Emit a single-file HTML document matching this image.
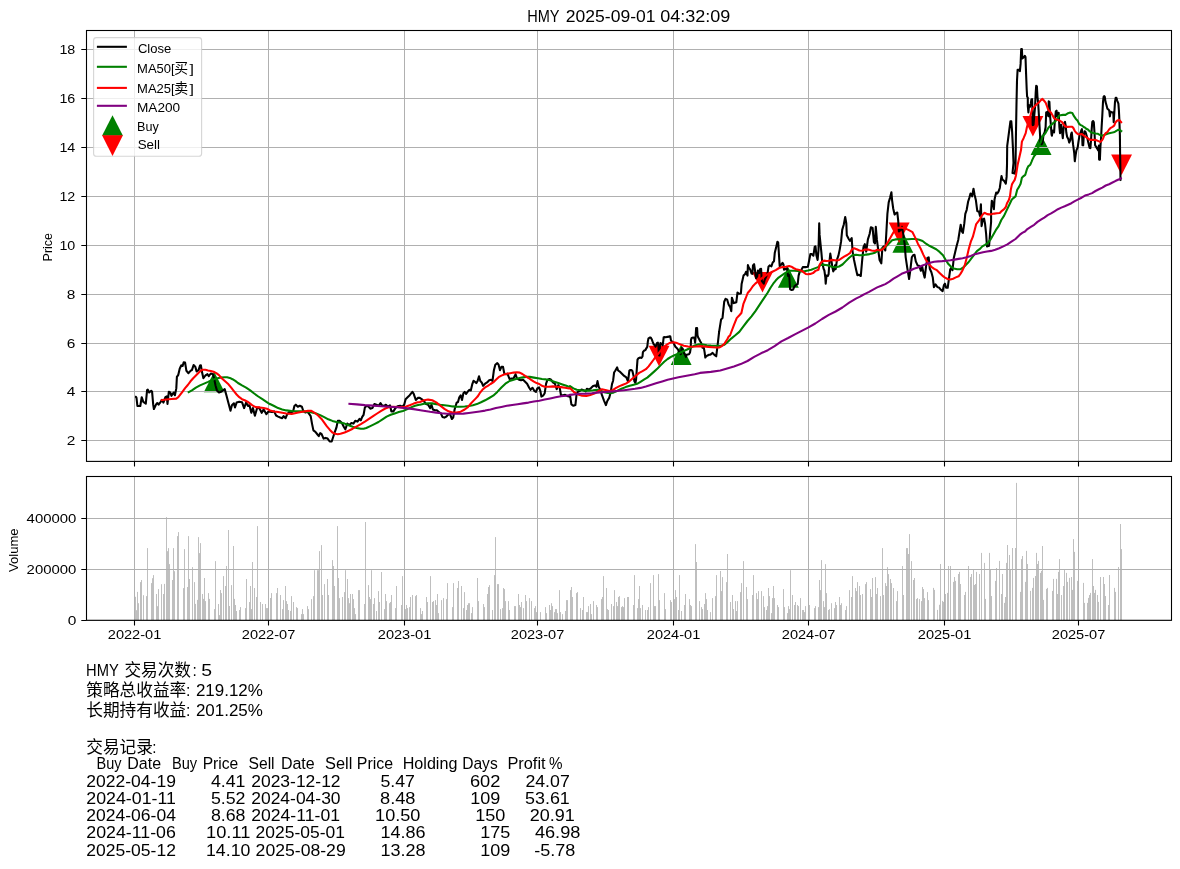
<!DOCTYPE html><html><head><meta charset="utf-8"><title>HMY</title><style>html,body{margin:0;padding:0;background:#fff}svg{display:block}text{font-family:"Liberation Sans", "Noto Sans CJK SC", sans-serif;fill:#000}</style></head><body>
<svg width="1180" height="869" viewBox="0 0 1180 869">
<rect width="1180" height="869" fill="#fff"/>
<defs><clipPath id="c1"><rect x="86.5" y="30.5" width="1085.0" height="430.9"/></clipPath></defs>
<path d="M135.5 620.3 V596.8 M136.5 620.3 V610.2 M137.5 620.3 V591.9 M138.5 620.3 V603.2 M140.5 620.3 V582.1 M141.5 620.3 V580.0 M143.5 620.3 V595.2 M146.5 620.3 V596.1 M147.5 620.3 V548.1 M151.5 620.3 V583.1 M152.5 620.3 V578.2 M153.5 620.3 V575.1 M156.5 620.3 V594.0 M157.5 620.3 V606.2 M158.5 620.3 V589.1 M161.5 620.3 V584.2 M163.5 620.3 V594.0 M164.5 620.3 V583.9 M166.5 620.3 V517.1 M167.5 620.3 V551.2 M168.5 620.3 V548.1 M169.5 620.3 V564.1 M172.5 620.3 V580.0 M173.5 620.3 V548.1 M174.5 620.3 V571.2 M177.5 620.3 V536.1 M178.5 620.3 V532.1 M183.5 620.3 V588.1 M184.5 620.3 V549.1 M187.5 620.3 V587.0 M188.5 620.3 V536.1 M189.5 620.3 V579.0 M192.5 620.3 V567.1 M194.5 620.3 V582.1 M195.5 620.3 V603.9 M197.5 620.3 V599.9 M198.5 620.3 V537.1 M199.5 620.3 V553.1 M200.5 620.3 V543.1 M202.5 620.3 V594.0 M203.5 620.3 V598.9 M204.5 620.3 V578.0 M205.5 620.3 V601.1 M208.5 620.3 V593.1 M209.5 620.3 V598.9 M214.5 620.3 V609.1 M215.5 620.3 V561.1 M218.5 620.3 V604.0 M219.5 620.3 V615.1 M220.5 620.3 V590.0 M221.5 620.3 V593.1 M223.5 620.3 V576.1 M225.5 620.3 V586.0 M226.5 620.3 V566.0 M228.5 620.3 V530.0 M229.5 620.3 V606.0 M231.5 620.3 V585.1 M233.5 620.3 V546.0 M234.5 620.3 V598.9 M235.5 620.3 V605.0 M236.5 620.3 V611.0 M239.5 620.3 V610.0 M240.5 620.3 V607.1 M245.5 620.3 V608.1 M246.5 620.3 V579.0 M249.5 620.3 V602.0 M250.5 620.3 V586.0 M251.5 620.3 V609.1 M252.5 620.3 V562.0 M254.5 620.3 V588.0 M256.5 620.3 V597.0 M257.5 620.3 V526.1 M260.5 620.3 V602.0 M262.5 620.3 V604.0 M265.5 620.3 V604.0 M266.5 620.3 V608.1 M267.5 620.3 V608.1 M270.5 620.3 V598.0 M271.5 620.3 V593.1 M276.5 620.3 V593.1 M277.5 620.3 V588.0 M280.5 620.3 V595.0 M282.5 620.3 V609.1 M283.5 620.3 V600.1 M285.5 620.3 V586.0 M286.5 620.3 V601.1 M287.5 620.3 V604.0 M288.5 620.3 V610.0 M290.5 620.3 V610.9 M291.5 620.3 V596.1 M293.5 620.3 V602.0 M296.5 620.3 V607.1 M297.5 620.3 V608.1 M301.5 620.3 V614.1 M302.5 620.3 V609.1 M303.5 620.3 V614.1 M307.5 620.3 V606.1 M308.5 620.3 V609.1 M311.5 620.3 V599.1 M313.5 620.3 V596.1 M314.5 620.3 V570.2 M317.5 620.3 V570.2 M318.5 620.3 V570.2 M319.5 620.3 V551.1 M321.5 620.3 V545.1 M322.5 620.3 V595.0 M324.5 620.3 V584.1 M327.5 620.3 V579.0 M328.5 620.3 V595.0 M332.5 620.3 V560.1 M333.5 620.3 V566.0 M334.5 620.3 V586.0 M337.5 620.3 V526.1 M338.5 620.3 V578.0 M339.5 620.3 V598.1 M342.5 620.3 V597.0 M344.5 620.3 V592.1 M345.5 620.3 V570.2 M347.5 620.3 V579.0 M348.5 620.3 V598.1 M349.5 620.3 V603.2 M350.5 620.3 V594.0 M352.5 620.3 V594.0 M353.5 620.3 V599.1 M354.5 620.3 V608.1 M355.5 620.3 V614.1 M358.5 620.3 V590.1 M359.5 620.3 V590.1 M364.5 620.3 V604.0 M365.5 620.3 V522.0 M368.5 620.3 V585.1 M369.5 620.3 V597.0 M370.5 620.3 V599.1 M371.5 620.3 V570.2 M373.5 620.3 V604.0 M374.5 620.3 V598.1 M376.5 620.3 V611.0 M378.5 620.3 V591.1 M379.5 620.3 V602.0 M381.5 620.3 V572.0 M384.5 620.3 V609.1 M385.5 620.3 V594.0 M386.5 620.3 V601.1 M389.5 620.3 V603.2 M390.5 620.3 V602.0 M391.5 620.3 V595.0 M395.5 620.3 V608.1 M396.5 620.3 V586.0 M401.5 620.3 V605.0 M402.5 620.3 V576.1 M405.5 620.3 V609.1 M406.5 620.3 V605.0 M407.5 620.3 V608.1 M409.5 620.3 V607.1 M410.5 620.3 V597.0 M412.5 620.3 V595.0 M415.5 620.3 V596.1 M416.5 620.3 V595.0 M420.5 620.3 V608.1 M421.5 620.3 V614.1 M422.5 620.3 V611.0 M426.5 620.3 V597.0 M427.5 620.3 V602.0 M430.5 620.3 V576.1 M432.5 620.3 V602.0 M433.5 620.3 V601.1 M435.5 620.3 V600.1 M436.5 620.3 V605.0 M437.5 620.3 V594.0 M438.5 620.3 V613.1 M441.5 620.3 V600.1 M443.5 620.3 V598.1 M446.5 620.3 V599.1 M447.5 620.3 V583.1 M452.5 620.3 V607.1 M453.5 620.3 V583.1 M457.5 620.3 V588.0 M458.5 620.3 V581.0 M461.5 620.3 V586.0 M463.5 620.3 V608.1 M464.5 620.3 V592.1 M466.5 620.3 V610.0 M467.5 620.3 V605.0 M468.5 620.3 V603.2 M469.5 620.3 V603.2 M471.5 620.3 V613.1 M472.5 620.3 V607.1 M477.5 620.3 V578.0 M478.5 620.3 V601.1 M483.5 620.3 V604.0 M484.5 620.3 V607.1 M487.5 620.3 V594.0 M488.5 620.3 V587.0 M489.5 620.3 V585.1 M492.5 620.3 V610.0 M494.5 620.3 V575.1 M495.5 620.3 V537.1 M497.5 620.3 V584.1 M498.5 620.3 V584.1 M500.5 620.3 V609.1 M502.5 620.3 V608.1 M503.5 620.3 V588.0 M504.5 620.3 V589.1 M505.5 620.3 V601.1 M508.5 620.3 V601.1 M509.5 620.3 V610.0 M514.5 620.3 V606.1 M515.5 620.3 V606.1 M518.5 620.3 V594.0 M519.5 620.3 V605.0 M520.5 620.3 V607.1 M521.5 620.3 V602.0 M523.5 620.3 V608.1 M525.5 620.3 V595.0 M526.5 620.3 V601.1 M529.5 620.3 V598.1 M531.5 620.3 V601.1 M534.5 620.3 V608.1 M535.5 620.3 V606.1 M536.5 620.3 V612.1 M540.5 620.3 V612.1 M545.5 620.3 V607.1 M546.5 620.3 V613.1 M549.5 620.3 V605.0 M550.5 620.3 V610.0 M551.5 620.3 V603.2 M552.5 620.3 V606.1 M554.5 620.3 V612.1 M555.5 620.3 V609.1 M556.5 620.3 V609.1 M557.5 620.3 V613.1 M559.5 620.3 V590.1 M560.5 620.3 V612.1 M562.5 620.3 V614.1 M565.5 620.3 V611.0 M566.5 620.3 V600.1 M567.5 620.3 V600.1 M570.5 620.3 V590.1 M571.5 620.3 V587.0 M572.5 620.3 V597.0 M576.5 620.3 V593.1 M577.5 620.3 V592.1 M580.5 620.3 V608.1 M582.5 620.3 V610.0 M583.5 620.3 V597.0 M586.5 620.3 V612.1 M587.5 620.3 V612.1 M588.5 620.3 V606.1 M590.5 620.3 V604.0 M591.5 620.3 V614.1 M593.5 620.3 V601.1 M596.5 620.3 V605.0 M597.5 620.3 V607.1 M601.5 620.3 V599.1 M602.5 620.3 V597.0 M603.5 620.3 V576.1 M606.5 620.3 V588.0 M607.5 620.3 V609.1 M608.5 620.3 V610.0 M611.5 620.3 V604.0 M613.5 620.3 V606.1 M614.5 620.3 V590.1 M616.5 620.3 V602.0 M617.5 620.3 V606.1 M618.5 620.3 V597.0 M619.5 620.3 V596.1 M621.5 620.3 V607.1 M622.5 620.3 V606.1 M623.5 620.3 V607.1 M624.5 620.3 V598.1 M627.5 620.3 V597.0 M628.5 620.3 V597.0 M633.5 620.3 V605.0 M634.5 620.3 V575.1 M637.5 620.3 V608.1 M638.5 620.3 V599.1 M639.5 620.3 V586.0 M640.5 620.3 V608.1 M642.5 620.3 V605.0 M645.5 620.3 V610.0 M647.5 620.3 V610.0 M648.5 620.3 V607.1 M650.5 620.3 V583.1 M653.5 620.3 V575.1 M654.5 620.3 V606.1 M655.5 620.3 V606.1 M658.5 620.3 V574.1 M659.5 620.3 V600.1 M664.5 620.3 V593.1 M665.5 620.3 V609.1 M670.5 620.3 V600.1 M671.5 620.3 V602.0 M674.5 620.3 V599.1 M675.5 620.3 V590.1 M676.5 620.3 V597.0 M678.5 620.3 V610.0 M679.5 620.3 V575.1 M681.5 620.3 V611.0 M684.5 620.3 V605.0 M685.5 620.3 V594.0 M689.5 620.3 V599.1 M690.5 620.3 V605.0 M691.5 620.3 V606.1 M695.5 620.3 V544.1 M696.5 620.3 V562.0 M699.5 620.3 V601.1 M701.5 620.3 V607.1 M702.5 620.3 V609.1 M704.5 620.3 V604.0 M705.5 620.3 V593.1 M706.5 620.3 V599.1 M707.5 620.3 V610.0 M710.5 620.3 V612.1 M712.5 620.3 V598.1 M715.5 620.3 V596.1 M716.5 620.3 V575.1 M720.5 620.3 V571.0 M721.5 620.3 V591.1 M722.5 620.3 V577.1 M726.5 620.3 V582.1 M727.5 620.3 V554.0 M730.5 620.3 V602.0 M732.5 620.3 V595.0 M733.5 620.3 V609.1 M735.5 620.3 V601.1 M736.5 620.3 V611.0 M737.5 620.3 V601.1 M740.5 620.3 V592.1 M741.5 620.3 V583.1 M743.5 620.3 V561.1 M746.5 620.3 V587.0 M747.5 620.3 V599.1 M752.5 620.3 V595.0 M753.5 620.3 V575.1 M756.5 620.3 V593.1 M757.5 620.3 V599.1 M758.5 620.3 V591.1 M761.5 620.3 V591.1 M763.5 620.3 V596.1 M764.5 620.3 V607.1 M766.5 620.3 V610.0 M767.5 620.3 V606.1 M768.5 620.3 V588.0 M769.5 620.3 V596.1 M771.5 620.3 V613.1 M772.5 620.3 V598.1 M773.5 620.3 V586.0 M774.5 620.3 V598.1 M777.5 620.3 V605.0 M778.5 620.3 V607.1 M783.5 620.3 V589.1 M784.5 620.3 V607.1 M787.5 620.3 V613.1 M788.5 620.3 V606.1 M789.5 620.3 V609.1 M790.5 620.3 V570.2 M792.5 620.3 V595.0 M794.5 620.3 V605.0 M795.5 620.3 V602.0 M797.5 620.3 V605.0 M798.5 620.3 V606.1 M800.5 620.3 V598.1 M802.5 620.3 V610.0 M803.5 620.3 V610.0 M804.5 620.3 V612.1 M805.5 620.3 V606.1 M809.5 620.3 V605.0 M814.5 620.3 V608.1 M815.5 620.3 V606.1 M818.5 620.3 V607.1 M819.5 620.3 V580.0 M820.5 620.3 V590.1 M821.5 620.3 V560.1 M823.5 620.3 V601.1 M824.5 620.3 V607.1 M825.5 620.3 V564.1 M826.5 620.3 V593.1 M828.5 620.3 V610.0 M829.5 620.3 V609.1 M831.5 620.3 V603.2 M834.5 620.3 V608.1 M835.5 620.3 V602.0 M836.5 620.3 V605.0 M839.5 620.3 V597.0 M840.5 620.3 V605.0 M841.5 620.3 V603.2 M845.5 620.3 V610.0 M846.5 620.3 V606.1 M849.5 620.3 V590.1 M851.5 620.3 V597.0 M852.5 620.3 V576.1 M855.5 620.3 V588.0 M856.5 620.3 V591.1 M857.5 620.3 V582.1 M859.5 620.3 V586.0 M860.5 620.3 V595.0 M862.5 620.3 V594.0 M865.5 620.3 V584.1 M866.5 620.3 V582.1 M870.5 620.3 V589.1 M871.5 620.3 V597.0 M872.5 620.3 V578.0 M875.5 620.3 V577.1 M876.5 620.3 V594.0 M877.5 620.3 V588.0 M880.5 620.3 V596.1 M882.5 620.3 V548.1 M883.5 620.3 V595.0 M885.5 620.3 V583.1 M886.5 620.3 V586.0 M887.5 620.3 V567.1 M888.5 620.3 V574.1 M890.5 620.3 V579.0 M891.5 620.3 V583.1 M893.5 620.3 V588.0 M896.5 620.3 V601.1 M897.5 620.3 V591.1 M902.5 620.3 V566.0 M903.5 620.3 V595.0 M906.5 620.3 V548.1 M907.5 620.3 V548.1 M908.5 620.3 V554.0 M909.5 620.3 V534.1 M911.5 620.3 V561.1 M913.5 620.3 V580.0 M914.5 620.3 V578.0 M916.5 620.3 V599.1 M917.5 620.3 V598.1 M919.5 620.3 V599.1 M921.5 620.3 V601.1 M922.5 620.3 V587.0 M923.5 620.3 V589.1 M924.5 620.3 V598.1 M927.5 620.3 V592.1 M928.5 620.3 V600.1 M933.5 620.3 V587.9 M934.5 620.3 V589.9 M937.5 620.3 V609.9 M939.5 620.3 V604.8 M940.5 620.3 V564.0 M942.5 620.3 V600.9 M943.5 620.3 V601.9 M945.5 620.3 V594.0 M947.5 620.3 V592.9 M948.5 620.3 V566.0 M950.5 620.3 V566.0 M953.5 620.3 V581.9 M954.5 620.3 V577.0 M955.5 620.3 V580.9 M958.5 620.3 V574.0 M959.5 620.3 V571.9 M960.5 620.3 V584.0 M964.5 620.3 V595.0 M965.5 620.3 V591.9 M968.5 620.3 V566.0 M970.5 620.3 V577.0 M971.5 620.3 V574.0 M973.5 620.3 V569.9 M974.5 620.3 V585.0 M975.5 620.3 V584.0 M976.5 620.3 V571.9 M979.5 620.3 V574.0 M981.5 620.3 V552.9 M984.5 620.3 V562.9 M985.5 620.3 V598.9 M989.5 620.3 V552.9 M990.5 620.3 V569.9 M991.5 620.3 V596.0 M995.5 620.3 V580.9 M996.5 620.3 V568.0 M999.5 620.3 V560.9 M1001.5 620.3 V594.0 M1002.5 620.3 V574.0 M1004.5 620.3 V602.9 M1005.5 620.3 V597.0 M1006.5 620.3 V562.9 M1007.5 620.3 V545.0 M1009.5 620.3 V555.0 M1010.5 620.3 V569.9 M1012.5 620.3 V548.0 M1015.5 620.3 V548.0 M1016.5 620.3 V482.9 M1020.5 620.3 V591.9 M1021.5 620.3 V559.1 M1022.5 620.3 V556.0 M1025.5 620.3 V581.9 M1026.5 620.3 V550.9 M1027.5 620.3 V564.0 M1030.5 620.3 V590.9 M1032.5 620.3 V587.9 M1033.5 620.3 V577.9 M1035.5 620.3 V576.0 M1036.5 620.3 V552.9 M1037.5 620.3 V564.0 M1038.5 620.3 V560.9 M1040.5 620.3 V572.9 M1041.5 620.3 V570.9 M1042.5 620.3 V546.0 M1043.5 620.3 V599.9 M1046.5 620.3 V588.9 M1047.5 620.3 V587.9 M1052.5 620.3 V590.9 M1053.5 620.3 V578.9 M1056.5 620.3 V578.9 M1057.5 620.3 V594.0 M1058.5 620.3 V571.9 M1059.5 620.3 V559.1 M1061.5 620.3 V595.0 M1063.5 620.3 V586.0 M1064.5 620.3 V569.9 M1066.5 620.3 V572.9 M1067.5 620.3 V581.9 M1069.5 620.3 V577.9 M1071.5 620.3 V577.0 M1072.5 620.3 V589.9 M1073.5 620.3 V539.1 M1074.5 620.3 V551.9 M1077.5 620.3 V580.9 M1083.5 620.3 V582.9 M1084.5 620.3 V602.9 M1087.5 620.3 V602.9 M1088.5 620.3 V597.9 M1089.5 620.3 V595.0 M1090.5 620.3 V592.9 M1092.5 620.3 V559.1 M1093.5 620.3 V586.0 M1094.5 620.3 V592.9 M1095.5 620.3 V589.9 M1097.5 620.3 V595.0 M1098.5 620.3 V601.9 M1100.5 620.3 V577.0 M1103.5 620.3 V577.0 M1104.5 620.3 V584.0 M1105.5 620.3 V596.0 M1108.5 620.3 V605.0 M1109.5 620.3 V575.0 M1114.5 620.3 V587.9 M1115.5 620.3 V591.9 M1118.5 620.3 V567.0 M1120.5 620.3 V524.0 M1121.5 620.3 V549.1" stroke="#bfbfbf" stroke-width="1" fill="none"/>
<polygon points="214.2,371.7 203.8,392.2 224.7,392.2" fill="#008000"/>
<polygon points="681.2,344.5 670.7,365.0 691.6,365.0" fill="#008000"/>
<polygon points="788.3,267.2 777.9,287.7 798.8,287.7" fill="#008000"/>
<polygon points="902.9,232.2 892.4,252.7 913.3,252.7" fill="#008000"/>
<polygon points="1041.0,134.5 1030.6,155.0 1051.5,155.0" fill="#008000"/>
<polygon points="659.0,366.2 648.6,345.7 669.5,345.7" fill="#ff0000"/>
<polygon points="762.5,292.6 752.0,272.1 772.9,272.1" fill="#ff0000"/>
<polygon points="899.2,243.1 888.7,222.6 909.6,222.6" fill="#ff0000"/>
<polygon points="1032.9,136.4 1022.5,115.9 1043.4,115.9" fill="#ff0000"/>
<polygon points="1121.6,175.1 1111.1,154.6 1132.0,154.6" fill="#ff0000"/>
<path d="M134.5 30.5 V461.4 M134.5 476.5 V620.3 M268.5 30.5 V461.4 M268.5 476.5 V620.3 M404.5 30.5 V461.4 M404.5 476.5 V620.3 M537.5 30.5 V461.4 M537.5 476.5 V620.3 M673.5 30.5 V461.4 M673.5 476.5 V620.3 M808.5 30.5 V461.4 M808.5 476.5 V620.3 M944.5 30.5 V461.4 M944.5 476.5 V620.3 M1078.5 30.5 V461.4 M1078.5 476.5 V620.3 M86.5 440.5 H1171.5 M86.5 391.5 H1171.5 M86.5 343.5 H1171.5 M86.5 294.5 H1171.5 M86.5 245.5 H1171.5 M86.5 196.5 H1171.5 M86.5 147.5 H1171.5 M86.5 98.5 H1171.5 M86.5 49.5 H1171.5 M86.5 620.5 H1171.5 M86.5 569.5 H1171.5 M86.5 518.5 H1171.5" stroke="#b0b0b0" stroke-width="1" fill="none"/>
<g clip-path="url(#c1)">
<polyline points="135.0,396.8 135.9,396.9 136.5,397.9 137.4,406.0 140.3,406.0 141.7,397.2 143.3,401.9 145.8,403.6 147.1,390.2 147.8,389.7 149.2,392.5 151.2,390.8 152.1,391.8 153.2,404.7 153.9,409.0 155.9,404.7 157.3,403.0 158.6,404.7 160.7,401.9 162.0,399.9 163.4,402.6 165.4,397.2 166.8,396.3 167.5,404.0 168.8,391.8 170.2,392.5 171.5,395.8 173.6,392.5 174.9,395.2 176.3,388.4 176.9,376.9 178.3,374.8 179.7,368.7 181.3,365.3 182.6,366.0 183.7,362.4 185.1,362.6 186.4,370.8 188.5,373.2 190.5,370.8 191.9,370.1 193.6,365.1 195.3,366.7 196.6,371.4 198.6,370.1 200.0,365.6 200.9,365.3 202.0,372.1 203.4,378.2 205.4,375.5 207.5,374.2 208.8,376.2 210.8,373.5 212.9,374.2 214.2,378.9 215.6,385.7 216.9,390.4 219.0,392.5 221.0,391.8 223.1,390.4 224.7,389.1 226.4,395.2 228.5,403.3 230.5,410.8 231.9,405.3 233.9,403.3 235.0,407.4 236.6,402.6 239.3,401.7 242.0,402.2 244.1,408.1 246.1,402.6 248.1,406.0 249.5,405.3 251.3,412.8 252.9,408.1 254.9,415.8 256.9,408.7 259.0,407.6 261.7,412.8 263.7,409.4 266.4,414.2 268.5,411.4 272.0,412.1 274.1,411.4 276.1,415.5 278.1,416.6 280.2,417.5 282.2,418.2 283.6,416.2 285.6,418.2 286.9,414.8 289.0,412.1 291.0,412.5 293.1,411.4 294.4,406.0 295.8,404.7 297.8,406.7 299.8,405.7 301.9,406.7 303.2,410.8 305.3,412.5 307.3,411.7 309.3,414.2 310.7,416.2 312.0,423.6 313.4,430.4 315.4,431.8 317.5,434.5 318.8,436.1 320.2,433.1 321.5,433.8 323.6,438.6 325.6,437.9 327.6,438.6 329.7,441.5 331.7,441.5 333.1,437.2 334.4,433.1 336.4,427.7 337.8,420.9 339.8,420.9 341.9,423.0 343.9,427.0 345.3,429.3 347.3,423.6 349.3,425.0 351.4,423.0 353.4,423.6 355.4,420.7 357.5,421.6 359.5,418.9 360.8,420.3 362.2,416.9 363.6,414.8 364.9,407.4 366.3,406.0 368.3,406.3 370.3,408.7 372.4,408.1 374.4,404.0 376.4,404.7 378.5,406.0 380.5,403.0 381.9,405.3 383.9,406.0 385.9,404.7 388.0,406.7 390.0,405.3 391.4,411.4 393.4,411.4 395.4,408.1 397.5,406.3 400.2,405.7 402.2,406.7 404.2,404.7 405.6,399.2 407.6,397.2 409.7,395.2 412.4,391.8 413.7,393.8 415.8,399.9 417.8,397.9 419.8,397.9 422.0,399.3 424.1,401.4 426.1,404.1 428.1,404.7 430.2,408.1 431.5,404.7 432.9,409.5 434.9,410.2 436.9,410.2 439.0,412.2 441.0,413.6 442.4,416.9 444.4,417.6 446.4,416.5 448.5,414.2 449.8,413.6 451.9,419.0 453.2,417.6 454.6,409.5 456.6,402.7 458.0,402.0 459.3,397.3 460.7,395.3 462.0,400.0 463.4,393.2 464.7,391.9 466.1,393.9 468.1,391.2 469.5,389.8 470.8,390.5 472.2,384.4 473.6,380.7 474.9,381.7 476.3,383.1 477.6,381.0 479.0,376.3 480.3,381.0 481.7,382.4 483.1,385.8 485.1,383.7 487.1,382.4 489.2,380.3 491.2,379.7 492.5,381.0 493.9,370.2 495.3,364.7 497.3,363.1 498.6,364.7 500.0,370.2 501.4,366.8 503.0,366.8 504.3,373.6 506.1,374.2 507.5,373.6 509.5,379.0 511.5,378.6 513.6,378.3 515.6,374.2 516.9,378.3 519.0,379.7 521.0,380.3 523.1,379.7 525.1,381.7 527.1,383.7 529.2,387.8 530.5,389.8 532.5,387.8 534.6,391.2 535.9,391.9 537.3,388.5 539.1,387.4 540.4,391.2 541.4,396.6 543.4,395.3 544.7,393.2 546.1,383.7 547.5,379.7 549.5,379.0 550.8,379.4 552.9,382.4 554.9,383.7 556.7,389.2 558.3,385.1 559.7,387.8 561.0,395.3 563.1,395.3 565.1,394.8 567.1,395.9 569.2,396.6 570.0,394.9 571.4,404.4 573.4,405.8 575.4,405.1 576.5,394.9 577.5,392.2 579.5,391.1 581.5,389.5 583.6,390.2 585.6,391.5 586.9,388.8 589.0,389.5 591.0,388.1 593.1,386.1 595.1,385.4 596.4,386.8 597.5,381.1 598.7,386.8 600.5,390.2 601.9,394.9 603.9,400.3 605.9,405.1 607.3,401.0 609.3,397.6 610.7,392.2 612.0,384.1 613.1,380.7 614.1,372.5 615.4,370.5 617.1,367.4 618.1,370.5 620.2,371.9 622.2,373.9 624.2,375.9 626.3,377.3 628.0,381.4 629.4,370.5 630.0,370.1 631.4,370.1 632.4,371.1 633.4,375.2 634.4,381.3 635.4,383.0 636.1,379.2 636.8,369.1 637.5,359.6 638.5,358.2 640.2,357.5 641.5,357.9 642.5,356.5 642.9,352.1 643.9,350.8 645.3,350.1 646.3,348.4 647.3,346.7 647.8,341.9 648.4,338.6 649.7,337.5 650.7,337.5 651.7,339.2 652.7,341.9 653.7,344.3 654.7,345.3 655.6,346.7 656.4,344.7 657.1,343.0 657.9,342.6 658.5,347.4 658.8,355.2 659.5,355.5 659.8,348.1 660.4,343.0 661.2,343.6 661.9,344.3 662.7,345.3 663.2,341.3 663.7,337.2 664.6,337.1 665.6,337.2 666.9,336.9 668.3,336.9 669.7,336.2 670.3,336.5 671.0,340.6 672.0,341.6 673.4,342.6 674.4,344.7 675.4,346.7 676.8,348.1 678.1,349.7 678.9,351.4 679.8,352.8 680.7,354.2 681.2,351.4 681.7,348.1 682.5,348.4 683.6,352.1 684.2,353.5 685.3,355.2 685.9,356.9 686.6,354.8 687.6,354.5 689.0,354.2 690.0,352.5 690.7,348.1 691.0,339.9 691.7,337.9 693.1,337.5 694.4,337.7 695.1,342.6 695.6,337.2 696.1,328.1 697.1,328.1 697.5,335.2 698.1,337.2 699.2,339.2 700.2,341.3 701.2,343.0 701.9,345.3 702.5,347.7 703.9,348.1 704.6,352.1 705.3,357.5 706.3,356.2 707.6,355.5 709.0,354.8 710.0,354.7 711.0,354.2 712.6,352.9 714.4,354.9 716.2,356.3 717.5,346.1 719.2,331.2 719.1,332.0 721.1,319.4 722.5,318.1 724.2,301.8 725.6,298.8 727.2,299.7 728.6,304.5 730.2,307.2 731.3,311.3 731.9,297.7 733.7,303.1 735.0,302.7 736.3,302.3 737.5,292.5 739.2,293.8 740.9,293.4 741.6,284.1 742.6,279.8 743.5,275.6 745.2,273.9 746.0,271.8 747.5,275.6 747.9,265.0 749.0,268.0 750.3,269.7 751.5,273.5 752.4,273.9 753.0,265.4 754.1,264.2 754.9,269.7 756.0,278.1 757.2,276.4 757.9,270.5 759.2,273.1 760.0,269.2 761.1,268.8 761.7,280.7 762.5,281.9 763.8,283.6 764.7,279.8 765.9,277.3 767.6,273.1 768.5,266.7 769.7,265.4 771.4,266.3 772.7,262.5 774.0,261.2 774.8,252.7 776.1,247.6 777.4,241.7 778.2,242.5 779.1,256.9 779.7,266.3 781.2,264.6 782.5,262.9 783.5,264.6 784.0,269.7 785.0,268.8 785.8,269.2 787.1,268.0 788.0,276.0 789.2,275.2 790.1,289.2 791.8,290.0 793.1,289.6 794.3,286.6 796.0,284.9 797.7,284.1 798.6,275.6 799.8,271.4 801.1,270.5 802.8,267.1 805.3,267.1 807.9,266.7 809.2,260.3 810.4,254.0 811.7,254.0 813.4,255.7 814.7,246.8 815.5,246.4 816.4,255.3 817.6,259.9 818.5,250.2 818.9,234.9 819.2,223.4 819.6,234.9 821.4,252.7 822.3,262.9 823.6,268.8 824.4,270.5 825.3,277.3 825.7,283.6 826.5,275.6 827.8,276.0 828.6,274.3 829.5,261.2 830.3,253.6 831.6,262.0 832.5,268.0 833.3,271.4 834.6,268.8 835.0,265.4 835.7,269.2 837.0,259.7 838.4,255.7 839.7,249.6 841.1,241.4 842.2,229.9 843.8,224.5 845.2,217.0 846.3,223.1 846.8,235.3 848.6,238.7 849.9,240.8 851.7,238.1 852.6,251.6 854.0,259.7 856.0,269.2 857.4,275.3 858.7,274.7 860.8,276.0 862.1,261.1 863.5,246.9 864.8,244.2 866.2,251.6 867.9,239.4 869.6,234.0 870.9,227.2 872.6,227.9 873.9,242.1 875.0,243.5 875.8,226.8 876.9,239.7 878.3,250.5 879.6,260.0 881.3,263.4 882.4,247.8 883.7,246.4 885.3,250.5 886.4,231.5 887.4,213.9 888.7,202.4 890.1,197.6 891.4,192.2 892.1,200.3 893.2,208.5 894.6,214.6 895.9,213.2 897.3,212.5 898.2,220.7 898.9,231.5 900.5,230.2 901.9,226.8 903.2,233.6 904.6,243.7 905.7,257.3 907.3,268.1 909.1,279.0 910.4,269.5 911.8,257.3 913.1,255.3 914.5,254.8 915.8,261.4 917.6,265.4 919.2,265.7 920.9,270.8 922.2,266.8 923.6,273.6 924.7,277.6 926.0,266.8 927.4,258.0 928.7,257.3 929.8,268.8 931.4,272.2 932.8,277.6 933.9,287.1 935.5,284.4 937.5,287.1 939.3,287.8 940.9,289.8 942.6,291.2 943.9,285.1 945.0,283.7 946.1,287.8 947.7,287.8 949.1,277.6 950.2,269.5 951.1,267.9 952.5,270.2 953.8,258.0 955.2,251.9 956.5,246.4 958.3,239.7 959.6,231.5 960.7,224.7 961.9,231.5 962.9,232.9 964.3,223.4 965.3,213.9 966.7,209.8 968.1,201.7 969.4,197.6 970.5,193.6 972.1,196.3 973.5,188.8 974.6,194.9 975.9,200.3 977.3,211.2 978.9,211.5 980.0,215.9 980.9,204.4 981.6,226.1 983.0,219.3 984.1,218.6 985.0,223.4 986.1,233.6 987.0,246.4 989.1,245.8 990.0,234.2 991.1,222.0 991.1,210.8 991.8,200.7 993.1,204.1 993.9,209.2 994.5,199.8 995.2,196.4 996.2,192.6 997.3,193.5 998.6,191.4 999.8,188.0 1000.7,181.2 1001.5,176.1 1002.4,179.5 1004.1,180.8 1005.8,183.7 1006.6,176.9 1007.0,165.1 1007.2,145.8 1009.2,130.6 1010.4,121.3 1011.3,121.4 1012.1,131.4 1013.0,149.2 1013.5,162.8 1012.5,173.1 1014.7,173.6 1015.5,168.5 1015.9,137.4 1016.5,103.5 1017.0,80.8 1017.6,69.8 1018.9,69.7 1019.9,71.1 1020.6,63.9 1021.2,49.1 1021.9,49.1 1022.3,58.4 1023.6,57.5 1024.8,55.8 1025.5,57.1 1026.1,74.1 1026.7,89.3 1027.1,96.5 1027.8,97.8 1027.8,106.0 1028.4,112.4 1029.1,105.2 1029.9,106.9 1030.8,103.5 1031.4,99.7 1032.1,99.2 1032.5,111.9 1032.7,125.1 1033.5,124.7 1034.2,116.2 1035.0,107.7 1035.7,92.7 1036.2,85.9 1036.9,86.4 1037.4,96.1 1038.2,103.5 1039.2,120.4 1040.1,135.7 1040.5,143.7 1041.6,144.2 1042.6,142.5 1043.5,134.8 1044.7,132.3 1045.6,127.2 1046.2,112.4 1047.3,111.9 1048.4,116.2 1048.7,101.4 1049.4,101.8 1050.1,116.2 1050.7,123.0 1051.5,134.0 1051.9,135.7 1052.8,130.6 1054.1,132.3 1054.9,120.4 1055.8,111.5 1056.6,110.7 1057.0,116.2 1057.7,113.2 1058.7,112.8 1059.4,127.2 1060.0,133.1 1060.4,128.9 1061.1,124.7 1061.9,130.6 1062.8,138.2 1063.4,130.6 1064.2,123.0 1065.0,121.9 1065.7,125.7 1066.3,132.5 1067.1,136.7 1068.4,139.2 1069.2,142.6 1070.3,140.1 1071.1,134.2 1071.8,132.5 1072.5,139.2 1073.1,144.7 1074.2,152.8 1074.8,161.3 1075.6,155.3 1076.4,150.3 1077.7,147.3 1078.6,140.9 1079.6,135.0 1080.7,132.0 1081.5,129.9 1081.9,129.1 1082.5,145.2 1083.2,145.3 1083.8,135.8 1084.5,131.2 1085.3,131.6 1086.2,134.2 1087.2,137.5 1088.3,142.6 1089.6,147.7 1090.4,148.1 1091.1,139.2 1091.7,129.1 1092.3,121.9 1093.1,121.0 1093.8,122.3 1094.5,132.5 1095.1,145.2 1096.2,146.9 1097.2,148.6 1098.1,150.3 1098.9,145.6 1099.1,159.6 1099.9,159.6 1100.4,146.9 1101.0,139.2 1101.6,127.4 1102.3,115.5 1103.0,101.9 1103.6,96.9 1104.2,96.0 1104.8,96.9 1105.5,101.9 1106.5,105.3 1107.4,108.7 1108.4,109.6 1109.2,110.4 1109.9,116.4 1110.6,111.7 1111.6,112.1 1112.6,112.5 1113.3,112.5 1113.7,122.3 1114.3,113.0 1115.0,101.9 1115.7,97.7 1116.4,97.7 1117.1,100.3 1118.4,103.6 1118.9,110.4 1119.4,120.6 1119.9,135.8 1120.1,152.8 1120.3,163.9 1120.5,180.0 1120.9,180.8" fill="none" stroke="#000" stroke-width="2.08" stroke-linejoin="round" stroke-linecap="butt"/>
<polyline points="187.8,392.7 191.9,390.4 195.9,387.7 200.0,385.4 204.1,383.6 208.1,381.9 212.2,380.0 214.9,378.9 217.6,378.2 221.0,377.5 224.4,377.3 227.1,377.3 229.8,377.9 232.5,379.2 235.3,380.9 238.0,383.0 242.0,385.4 246.1,387.7 250.2,390.4 254.2,393.5 258.3,396.5 262.4,399.2 266.4,401.9 269.8,404.1 270.0,404.0 274.1,406.0 278.1,408.1 282.2,409.4 286.3,410.4 291.7,411.0 297.1,411.4 302.5,411.4 308.0,411.7 312.0,412.4 316.1,413.5 320.2,415.1 324.2,417.1 328.3,419.3 332.4,420.9 336.4,422.0 340.5,422.6 344.6,423.6 348.6,425.3 352.7,426.8 356.8,428.0 360.8,428.8 363.6,428.8 366.3,428.0 370.3,426.1 374.4,424.1 378.5,422.0 382.5,419.3 386.6,416.6 390.7,414.8 394.7,413.5 398.8,412.1 402.9,411.0 406.9,409.4 411.0,407.4 415.1,405.7 419.2,404.7 420.0,404.7 424.1,403.8 428.1,403.4 432.2,403.4 436.3,404.1 440.3,404.7 444.4,405.2 448.5,405.7 452.5,406.4 456.6,406.8 460.7,406.8 464.7,406.5 468.8,406.1 472.9,405.2 476.9,404.1 481.0,402.3 485.1,400.3 489.2,398.0 493.2,395.7 497.3,391.9 501.4,387.5 505.4,383.7 509.5,381.0 513.6,379.7 517.6,378.6 521.7,377.6 525.8,376.9 529.8,376.9 533.9,377.6 538.0,378.3 542.0,379.0 546.1,379.4 550.2,380.3 554.2,381.7 558.3,383.1 562.4,384.4 566.4,385.8 569.8,387.1 570.0,386.1 573.4,388.4 576.8,389.8 580.8,390.3 584.9,390.6 589.0,390.6 593.1,390.3 597.1,389.8 601.2,391.1 605.3,392.5 609.3,393.3 613.4,392.6 617.5,390.8 621.5,388.8 625.6,387.1 629.7,385.7 633.7,384.7 637.1,383.8 640.5,381.8 643.9,379.7 647.3,377.6 650.7,374.6 654.1,371.6 657.5,368.5 660.8,365.1 664.2,361.7 667.6,359.0 671.0,356.9 674.4,355.3 678.5,353.6 682.5,351.5 686.6,349.8 690.7,347.7 694.7,345.4 698.8,344.3 702.9,344.5 706.9,345.2 711.0,345.6 715.1,345.8 719.2,345.8 720.3,346.1 724.4,344.7 727.1,342.4 731.2,338.6 735.3,335.3 739.3,331.9 743.4,326.4 747.5,321.0 751.5,316.3 755.6,310.8 759.7,304.7 763.7,298.6 767.8,292.5 770.5,287.8 773.2,283.7 775.9,280.3 778.6,277.6 781.4,275.6 785.4,272.9 789.5,270.8 790.9,270.7 794.3,270.7 797.7,270.9 801.1,271.4 804.5,271.2 807.9,270.5 811.3,269.7 814.7,268.4 818.1,267.1 820.6,265.0 823.1,264.6 825.7,265.0 828.2,265.4 831.6,266.7 835.0,267.3 835.7,267.2 839.1,266.5 842.5,264.5 845.8,261.1 849.2,257.7 852.6,255.0 856.0,254.7 859.4,255.3 862.8,255.3 866.2,254.6 869.6,254.1 872.3,253.4 875.0,252.7 877.2,251.2 881.3,249.2 885.3,247.1 888.7,243.7 892.1,240.3 895.5,239.4 899.6,239.3 903.6,239.3 907.7,239.3 911.8,239.0 915.8,239.0 919.2,239.7 922.6,241.0 926.0,243.7 929.4,245.8 932.8,247.5 936.2,249.2 939.6,251.9 943.0,255.3 945.7,260.0 948.4,264.1 951.1,266.8 953.8,268.5 957.2,269.2 960.6,269.1 963.3,267.5 966.0,264.7 968.7,262.0 971.4,258.4 974.2,254.6 976.9,251.2 979.6,249.2 982.3,246.4 985.0,244.8 987.7,243.1 990.4,239.7 993.1,234.9 995.8,230.2 998.6,226.1 1001.3,220.0 1004.0,215.9 1011.7,199.8 1013.4,198.1 1015.5,196.4 1017.2,189.7 1018.9,187.1 1020.6,183.7 1021.9,177.8 1023.6,176.1 1025.3,174.8 1026.9,169.3 1028.2,166.4 1030.3,164.7 1031.6,161.7 1032.5,159.4 1034.2,156.0 1035.8,154.3 1037.5,149.2 1039.2,145.0 1040.9,142.0 1042.2,137.4 1043.5,135.3 1045.2,133.6 1046.9,130.6 1048.6,127.6 1050.7,125.5 1052.8,123.4 1054.9,121.7 1057.0,119.6 1058.7,116.2 1060.4,115.2 1063.0,114.9 1065.5,114.9 1068.1,113.2 1070.2,112.6 1072.3,113.0 1074.0,116.2 1075.7,118.7 1077.4,120.4 1079.1,123.8 1080.8,125.1 1082.5,125.9 1083.7,127.0 1085.0,127.6 1086.2,128.8 1087.9,129.5 1089.6,131.2 1091.3,132.5 1093.4,133.1 1095.5,133.5 1097.6,133.7 1099.7,134.8 1101.9,135.7 1104.0,135.0 1106.1,134.2 1108.2,133.5 1110.3,132.9 1112.5,132.5 1114.6,132.0 1116.3,130.8 1118.0,129.9 1119.7,129.7 1120.9,130.8 1122.2,131.6" fill="none" stroke="#008000" stroke-width="2.08" stroke-linejoin="round" stroke-linecap="butt"/>
<polyline points="160.7,400.3 166.1,399.5 171.5,399.0 176.3,398.6 178.3,397.2 182.4,391.8 185.1,388.1 187.8,385.0 190.5,381.3 193.2,378.2 195.9,375.5 198.6,372.8 200.7,370.8 202.7,369.8 205.4,369.7 208.1,370.4 210.8,371.0 213.6,371.8 216.3,373.1 219.0,375.1 221.7,378.2 225.1,381.3 228.5,384.3 231.2,387.7 233.9,391.1 236.6,394.5 239.3,397.2 242.0,399.2 244.7,400.3 247.5,401.7 250.2,403.6 252.9,405.7 255.6,407.1 259.7,407.4 263.7,408.1 267.8,409.1 270.0,410.5 274.1,411.4 278.1,412.1 282.2,412.8 286.3,413.5 291.7,413.9 297.1,412.8 302.5,411.8 308.0,410.9 311.4,410.8 314.7,412.8 318.1,415.5 321.5,418.9 324.2,422.6 326.9,426.4 329.7,429.7 332.4,432.5 335.1,433.8 337.8,434.2 340.5,433.8 344.6,432.5 348.6,430.7 352.7,428.7 356.8,426.4 360.8,424.1 364.9,421.6 369.0,418.9 373.1,416.2 377.1,413.5 381.2,410.8 385.3,408.5 389.3,407.1 393.4,406.7 397.5,407.0 401.5,407.1 405.6,406.7 409.7,405.3 413.7,403.6 417.8,402.2 420.0,402.0 424.1,400.3 428.1,399.6 432.2,400.3 436.3,402.4 440.3,405.7 444.4,408.8 448.5,411.3 452.5,412.5 456.6,412.6 460.7,411.7 464.7,409.5 467.5,407.5 470.2,404.3 472.9,401.4 475.6,398.6 477.6,396.6 479.7,393.2 482.4,389.8 485.1,387.4 487.8,385.8 490.5,384.0 493.2,382.4 495.9,379.7 498.6,377.2 501.4,375.6 504.1,374.5 506.8,373.8 510.2,373.2 513.6,372.6 516.9,372.2 519.7,372.6 522.4,374.0 525.1,375.9 528.5,378.0 531.2,379.9 533.9,381.7 536.6,383.1 539.3,384.0 542.0,385.8 544.7,386.7 548.8,386.7 552.9,386.4 556.9,386.7 561.0,387.1 565.1,387.8 569.2,388.5 570.0,388.1 574.1,392.2 578.1,394.6 582.2,395.7 586.3,395.9 590.3,394.9 594.4,393.6 598.5,391.1 601.9,389.2 605.3,389.9 609.3,391.1 612.7,390.2 616.1,387.9 619.5,386.1 622.9,384.7 626.3,383.4 629.7,381.1 633.1,378.0 636.4,375.3 639.2,372.9 642.5,371.2 645.9,369.2 648.6,366.4 651.4,362.6 654.1,359.0 656.8,355.6 659.5,352.2 662.2,348.8 664.9,346.1 667.6,344.1 670.3,342.7 673.7,342.3 677.1,343.1 680.5,344.5 683.9,345.7 688.0,346.5 692.0,346.8 696.1,346.5 700.2,346.1 704.2,346.5 708.3,346.9 712.4,347.2 716.4,347.5 719.2,347.5 721.9,346.1 724.6,343.4 727.3,339.3 728.6,336.6 730.0,335.5 731.3,332.0 734.0,324.8 736.7,318.1 739.4,315.3 741.4,313.0 743.5,303.6 745.6,298.5 747.7,293.0 750.3,290.0 752.8,286.2 755.3,283.6 757.9,281.5 760.4,279.4 763.0,277.3 765.5,275.6 768.9,273.5 772.3,271.8 775.7,270.1 779.1,268.0 782.5,267.1 785.8,266.7 789.2,266.1 791.4,266.7 793.5,268.0 796.0,269.2 799.4,270.1 801.9,270.9 804.1,272.6 805.8,273.9 807.9,274.3 810.4,273.9 813.0,273.1 815.5,270.9 818.5,269.7 819.7,264.6 821.4,262.0 824.0,260.6 826.5,261.0 829.1,260.8 831.6,259.9 835.0,260.2 836.4,260.4 839.1,260.0 841.8,258.1 844.5,256.4 847.2,255.0 849.9,253.2 851.9,249.6 854.0,248.2 856.7,249.3 859.4,250.5 862.1,250.7 864.8,249.6 868.2,249.6 871.6,250.5 875.0,250.9 877.2,249.8 879.9,250.5 882.6,249.2 885.3,246.4 888.1,241.7 890.8,236.9 893.5,232.2 896.2,228.1 900.3,227.5 904.3,228.1 908.4,229.9 912.5,232.2 915.2,237.6 917.9,243.7 920.6,248.5 923.3,254.6 926.0,260.0 928.7,264.1 931.4,266.8 934.2,268.8 936.9,270.2 939.6,272.9 942.3,275.6 945.0,277.6 947.7,279.0 950.4,279.4 953.1,278.7 955.8,277.4 958.6,276.3 960.6,273.6 962.6,270.2 964.7,265.4 966.7,258.0 968.7,249.2 970.8,241.7 972.8,236.9 974.8,229.5 976.2,224.1 978.9,220.7 981.6,215.9 984.3,212.9 985.0,213.0 987.1,214.1 989.2,214.4 991.8,214.1 994.3,213.6 996.9,213.2 999.8,213.0 1001.9,210.8 1004.1,209.2 1005.8,207.0 1007.0,203.2 1008.7,200.3 1010.0,196.4 1010.8,189.7 1011.9,184.6 1013.0,182.5 1014.7,179.9 1015.9,175.7 1016.8,170.2 1017.6,165.1 1021.0,150.1 1021.9,141.6 1023.6,138.2 1025.7,133.1 1026.9,127.2 1028.6,121.3 1030.3,116.2 1032.0,109.4 1034.2,106.9 1036.7,104.3 1039.2,102.2 1040.9,100.1 1042.5,98.8 1043.9,100.5 1045.6,102.6 1046.9,106.0 1048.1,109.4 1049.4,111.1 1051.1,112.8 1052.8,115.8 1054.1,118.3 1055.8,119.2 1057.5,119.7 1059.2,120.4 1060.8,121.3 1062.1,122.1 1063.4,124.2 1064.7,125.7 1065.0,126.5 1067.5,126.9 1070.1,126.7 1072.2,126.7 1073.5,128.2 1074.7,130.8 1076.4,132.9 1078.1,134.3 1080.3,134.2 1081.9,134.0 1083.6,135.4 1085.8,136.9 1087.9,138.4 1090.0,139.9 1092.1,139.9 1094.2,139.7 1096.4,140.3 1098.5,141.1 1100.2,141.9 1101.9,140.5 1103.1,138.4 1104.4,135.0 1105.7,133.1 1107.4,132.0 1109.1,129.5 1110.8,127.8 1112.5,126.9 1114.2,125.7 1115.4,122.7 1116.7,121.0 1118.0,120.2 1119.2,119.9 1120.5,121.4 1121.8,123.0" fill="none" stroke="#ff0000" stroke-width="2.08" stroke-linejoin="round" stroke-linecap="butt"/>
<polyline points="348.4,403.7 356.8,404.4 364.9,405.1 373.1,405.6 381.2,406.2 389.3,406.7 397.5,407.2 405.6,408.1 413.7,409.1 421.9,410.5 430.0,411.8 436.3,412.6 441.7,413.3 447.1,413.7 452.5,413.8 458.0,413.8 463.4,413.6 468.8,413.0 474.2,412.3 479.7,411.5 485.1,410.6 490.5,409.5 495.9,408.1 501.4,406.9 506.8,405.8 512.2,405.0 517.6,404.2 523.1,403.4 528.5,402.6 533.9,401.6 539.3,400.7 544.7,399.6 550.2,398.4 555.6,397.3 561.0,396.3 566.4,395.7 570.0,394.9 575.4,394.2 580.8,393.8 586.3,393.6 591.7,393.2 597.1,392.6 602.5,392.2 608.0,391.8 613.4,391.4 618.8,390.8 624.2,390.2 629.7,389.5 635.1,388.8 640.5,387.9 645.9,386.4 651.4,384.7 656.8,383.0 662.2,381.4 667.6,379.7 673.1,378.4 678.5,377.3 683.9,376.3 689.3,375.3 694.7,374.2 700.0,372.9 710.8,371.9 720.3,370.5 727.1,368.5 733.9,366.4 740.7,364.1 747.5,361.0 754.2,356.9 761.0,353.3 767.8,350.2 774.6,346.1 781.4,341.4 788.1,338.0 794.9,334.3 801.7,330.8 808.5,327.4 815.3,323.5 822.0,319.0 828.8,314.9 835.6,311.5 842.4,307.5 849.2,302.7 855.9,298.6 860.0,296.6 862.8,295.0 865.0,293.9 869.1,291.9 873.1,289.6 877.2,287.4 881.3,285.8 885.3,284.1 889.4,281.7 893.5,278.7 897.5,276.3 901.6,273.8 905.7,272.2 909.7,270.8 913.8,268.8 917.9,267.5 921.9,265.8 926.0,264.1 930.1,262.7 934.2,261.8 938.2,261.4 942.3,261.1 946.4,260.7 950.4,260.3 954.5,259.6 958.6,258.9 962.6,258.2 966.7,257.3 970.8,255.9 974.8,254.3 978.9,253.2 983.0,252.3 987.0,251.6 991.1,250.9 995.2,249.8 999.2,248.2 1003.3,246.4 1007.4,244.4 1011.4,241.7 1015.5,239.0 1019.6,234.9 1022.3,232.9 1025.0,231.5 1027.4,229.1 1030.8,226.9 1034.2,224.8 1037.5,221.9 1040.9,219.7 1044.3,217.6 1047.7,215.1 1051.1,213.4 1054.5,211.3 1057.9,209.2 1061.3,207.6 1064.7,206.2 1068.1,204.7 1071.4,203.2 1074.8,201.1 1078.2,199.4 1081.6,197.7 1085.0,195.6 1088.7,194.4 1092.1,193.1 1095.5,191.0 1098.9,189.3 1102.3,187.6 1105.7,185.5 1109.1,184.2 1112.5,182.5 1115.8,180.8 1119.2,179.2 1121.8,177.9" fill="none" stroke="#800080" stroke-width="2.08" stroke-linejoin="round" stroke-linecap="butt"/>
</g>
<rect x="86.5" y="30.5" width="1085.0" height="430.9" fill="none" stroke="#000" stroke-width="1.1"/>
<rect x="86.5" y="476.5" width="1085.0" height="143.79999999999995" fill="none" stroke="#000" stroke-width="1.1"/>
<path d="M134.5 461.4 v5.2 M134.5 620.3 v5.2 M268.5 461.4 v5.2 M268.5 620.3 v5.2 M404.5 461.4 v5.2 M404.5 620.3 v5.2 M537.5 461.4 v5.2 M537.5 620.3 v5.2 M673.5 461.4 v5.2 M673.5 620.3 v5.2 M808.5 461.4 v5.2 M808.5 620.3 v5.2 M944.5 461.4 v5.2 M944.5 620.3 v5.2 M1078.5 461.4 v5.2 M1078.5 620.3 v5.2 M86.5 440.5 h-5.2 M86.5 391.5 h-5.2 M86.5 343.5 h-5.2 M86.5 294.5 h-5.2 M86.5 245.5 h-5.2 M86.5 196.5 h-5.2 M86.5 147.5 h-5.2 M86.5 98.5 h-5.2 M86.5 49.5 h-5.2 M86.5 620.5 h-5.2 M86.5 569.5 h-5.2 M86.5 518.5 h-5.2" stroke="#000" stroke-width="1.1" fill="none"/>
<text x="66.7" y="445.1" font-size="12.9" textLength="8.6" lengthAdjust="spacingAndGlyphs">2</text>
<text x="66.7" y="396.1" font-size="12.9" textLength="8.6" lengthAdjust="spacingAndGlyphs">4</text>
<text x="66.7" y="348.1" font-size="12.9" textLength="8.6" lengthAdjust="spacingAndGlyphs">6</text>
<text x="66.7" y="299.1" font-size="12.9" textLength="8.6" lengthAdjust="spacingAndGlyphs">8</text>
<text x="59.4" y="250.1" font-size="12.9" textLength="15.9" lengthAdjust="spacingAndGlyphs">10</text>
<text x="59.4" y="201.1" font-size="12.9" textLength="15.9" lengthAdjust="spacingAndGlyphs">12</text>
<text x="59.4" y="152.1" font-size="12.9" textLength="15.9" lengthAdjust="spacingAndGlyphs">14</text>
<text x="59.4" y="103.1" font-size="12.9" textLength="15.9" lengthAdjust="spacingAndGlyphs">16</text>
<text x="59.4" y="54.1" font-size="12.9" textLength="15.9" lengthAdjust="spacingAndGlyphs">18</text>
<text x="26.6" y="522.9" font-size="12.9" textLength="49.7" lengthAdjust="spacingAndGlyphs">400000</text>
<text x="26.6" y="573.9" font-size="12.9" textLength="49.7" lengthAdjust="spacingAndGlyphs">200000</text>
<text x="67.7" y="624.9" font-size="12.9" textLength="8.6" lengthAdjust="spacingAndGlyphs">0</text>
<text x="107.8" y="638.9" font-size="12.9" textLength="53.5" lengthAdjust="spacingAndGlyphs">2022-01</text>
<text x="241.8" y="638.9" font-size="12.9" textLength="53.5" lengthAdjust="spacingAndGlyphs">2022-07</text>
<text x="377.8" y="638.9" font-size="12.9" textLength="53.5" lengthAdjust="spacingAndGlyphs">2023-01</text>
<text x="510.8" y="638.9" font-size="12.9" textLength="53.5" lengthAdjust="spacingAndGlyphs">2023-07</text>
<text x="646.8" y="638.9" font-size="12.9" textLength="53.5" lengthAdjust="spacingAndGlyphs">2024-01</text>
<text x="781.8" y="638.9" font-size="12.9" textLength="53.5" lengthAdjust="spacingAndGlyphs">2024-07</text>
<text x="917.8" y="638.9" font-size="12.9" textLength="53.5" lengthAdjust="spacingAndGlyphs">2025-01</text>
<text x="1051.8" y="638.9" font-size="12.9" textLength="53.5" lengthAdjust="spacingAndGlyphs">2025-07</text>
<text transform="translate(52.2,261.4) rotate(-90)" font-size="12.9" textLength="28.4" lengthAdjust="spacingAndGlyphs">Price</text>
<text transform="translate(18.1,572.0) rotate(-90)" font-size="12.9" textLength="43.6" lengthAdjust="spacingAndGlyphs">Volume</text>
<text x="527.2" y="21.8" font-size="16.9" textLength="32.3" lengthAdjust="spacingAndGlyphs">HMY</text>
<text x="565.8" y="21.8" font-size="16.9" textLength="89.7" lengthAdjust="spacingAndGlyphs">2025-09-01</text>
<text x="660.2" y="21.8" font-size="16.9" textLength="70.1" lengthAdjust="spacingAndGlyphs">04:32:09</text>
<rect x="93.6" y="37.6" width="108" height="118.7" rx="2.8" fill="#fff" fill-opacity="0.8" stroke="#ccc" stroke-opacity="0.8" stroke-width="1.1"/>
<path d="M96.9 46.8 H126.9" stroke="#000" stroke-width="2.08"/>
<path d="M96.9 66.8 H126.9" stroke="#008000" stroke-width="2.08"/>
<path d="M96.9 87.9 H126.9" stroke="#ff0000" stroke-width="2.08"/>
<path d="M96.9 105.8 H126.9" stroke="#800080" stroke-width="2.08"/>
<polygon points="112.5,115.3 102.05,135.7 122.95,135.7" fill="#008000"/>
<polygon points="112.5,155.9 102.05,135.3 122.95,135.3" fill="#ff0000"/>
<text x="137.9" y="52.9" font-size="12.9" textLength="33.4" lengthAdjust="spacingAndGlyphs">Close</text>
<text x="137.1" y="72.9" font-size="12.9" textLength="37.6" lengthAdjust="spacingAndGlyphs">MA50[</text>
<text x="174.3" y="72.9" font-size="13.9">买</text>
<text x="189.5" y="72.9" font-size="12.9" textLength="4.4" lengthAdjust="spacingAndGlyphs">]</text>
<text x="137.1" y="93.0" font-size="12.9" textLength="37.6" lengthAdjust="spacingAndGlyphs">MA25[</text>
<text x="174.3" y="93.0" font-size="13.9">卖</text>
<text x="189.5" y="93.0" font-size="12.9" textLength="4.4" lengthAdjust="spacingAndGlyphs">]</text>
<text x="137.0" y="111.8" font-size="12.9" textLength="43.1" lengthAdjust="spacingAndGlyphs">MA200</text>
<text x="137.0" y="130.8" font-size="12.9" textLength="21.7" lengthAdjust="spacingAndGlyphs">Buy</text>
<text x="137.7" y="149.2" font-size="12.9" textLength="22.3" lengthAdjust="spacingAndGlyphs">Sell</text>
<text x="86.1" y="675.7" font-size="16.9" textLength="32.7" lengthAdjust="spacingAndGlyphs">HMY</text>
<text x="124.4" y="675.7" font-size="16.67">交易次数</text>
<text x="192.5" y="675.7" font-size="16.9" textLength="4.3" lengthAdjust="spacingAndGlyphs">:</text>
<text x="201.3" y="675.7" font-size="16.9" textLength="10.8" lengthAdjust="spacingAndGlyphs">5</text>
<text x="86.3" y="695.7" font-size="16.67">策略总收益率</text>
<text x="186.1" y="695.7" font-size="16.9" textLength="4.4" lengthAdjust="spacingAndGlyphs">:</text>
<text x="195.9" y="695.7" font-size="16.9" textLength="67.0" lengthAdjust="spacingAndGlyphs">219.12%</text>
<text x="86.3" y="715.7" font-size="16.67">长期持有收益</text>
<text x="186.1" y="715.7" font-size="16.9" textLength="4.4" lengthAdjust="spacingAndGlyphs">:</text>
<text x="195.9" y="715.7" font-size="16.9" textLength="67.0" lengthAdjust="spacingAndGlyphs">201.25%</text>
<text x="86.3" y="753.0" font-size="16.67">交易记录</text>
<text x="152.2" y="753.0" font-size="16.9" textLength="4.2" lengthAdjust="spacingAndGlyphs">:</text>
<text x="96.5" y="768.7" font-size="16.9" textLength="25.0" lengthAdjust="spacingAndGlyphs">Buy</text>
<text x="127.3" y="768.7" font-size="16.9" textLength="33.8" lengthAdjust="spacingAndGlyphs">Date</text>
<text x="171.9" y="768.7" font-size="16.9" textLength="25.2" lengthAdjust="spacingAndGlyphs">Buy</text>
<text x="202.7" y="768.7" font-size="16.9" textLength="35.6" lengthAdjust="spacingAndGlyphs">Price</text>
<text x="248.5" y="768.7" font-size="16.9" textLength="26.1" lengthAdjust="spacingAndGlyphs">Sell</text>
<text x="280.9" y="768.7" font-size="16.9" textLength="33.8" lengthAdjust="spacingAndGlyphs">Date</text>
<text x="325.0" y="768.7" font-size="16.9" textLength="27.3" lengthAdjust="spacingAndGlyphs">Sell</text>
<text x="356.8" y="768.7" font-size="16.9" textLength="36.3" lengthAdjust="spacingAndGlyphs">Price</text>
<text x="402.7" y="768.7" font-size="16.9" textLength="54.7" lengthAdjust="spacingAndGlyphs">Holding</text>
<text x="462.2" y="768.7" font-size="16.9" textLength="35.5" lengthAdjust="spacingAndGlyphs">Days</text>
<text x="507.4" y="768.7" font-size="16.9" textLength="38.2" lengthAdjust="spacingAndGlyphs">Profit</text>
<text x="549.0" y="768.7" font-size="16.9" textLength="13.5" lengthAdjust="spacingAndGlyphs">%</text>
<text x="86.3" y="786.5" font-size="16.9" textLength="89.6" lengthAdjust="spacingAndGlyphs">2022-04-19</text>
<text x="210.9" y="786.5" font-size="16.9" textLength="34.6" lengthAdjust="spacingAndGlyphs">4.41</text>
<text x="251.2" y="786.5" font-size="16.9" textLength="89.4" lengthAdjust="spacingAndGlyphs">2023-12-12</text>
<text x="380.4" y="786.5" font-size="16.9" textLength="34.5" lengthAdjust="spacingAndGlyphs">5.47</text>
<text x="469.9" y="786.5" font-size="16.9" textLength="30.5" lengthAdjust="spacingAndGlyphs">602</text>
<text x="525.4" y="786.5" font-size="16.9" textLength="44.4" lengthAdjust="spacingAndGlyphs">24.07</text>
<text x="86.3" y="803.9" font-size="16.9" textLength="89.6" lengthAdjust="spacingAndGlyphs">2024-01-11</text>
<text x="210.9" y="803.9" font-size="16.9" textLength="34.6" lengthAdjust="spacingAndGlyphs">5.52</text>
<text x="251.2" y="803.9" font-size="16.9" textLength="89.4" lengthAdjust="spacingAndGlyphs">2024-04-30</text>
<text x="380.0" y="803.9" font-size="16.9" textLength="35.5" lengthAdjust="spacingAndGlyphs">8.48</text>
<text x="470.3" y="803.9" font-size="16.9" textLength="30.1" lengthAdjust="spacingAndGlyphs">109</text>
<text x="525.0" y="803.9" font-size="16.9" textLength="44.8" lengthAdjust="spacingAndGlyphs">53.61</text>
<text x="86.3" y="820.7" font-size="16.9" textLength="89.6" lengthAdjust="spacingAndGlyphs">2024-06-04</text>
<text x="210.9" y="820.7" font-size="16.9" textLength="34.6" lengthAdjust="spacingAndGlyphs">8.68</text>
<text x="251.2" y="820.7" font-size="16.9" textLength="88.8" lengthAdjust="spacingAndGlyphs">2024-11-01</text>
<text x="375.1" y="820.7" font-size="16.9" textLength="45.3" lengthAdjust="spacingAndGlyphs">10.50</text>
<text x="475.2" y="820.7" font-size="16.9" textLength="30.2" lengthAdjust="spacingAndGlyphs">150</text>
<text x="529.8" y="820.7" font-size="16.9" textLength="45.1" lengthAdjust="spacingAndGlyphs">20.91</text>
<text x="86.3" y="838.1" font-size="16.9" textLength="89.6" lengthAdjust="spacingAndGlyphs">2024-11-06</text>
<text x="206.0" y="838.1" font-size="16.9" textLength="44.4" lengthAdjust="spacingAndGlyphs">10.11</text>
<text x="255.6" y="838.1" font-size="16.9" textLength="89.4" lengthAdjust="spacingAndGlyphs">2025-05-01</text>
<text x="380.4" y="838.1" font-size="16.9" textLength="45.1" lengthAdjust="spacingAndGlyphs">14.86</text>
<text x="480.2" y="838.1" font-size="16.9" textLength="30.1" lengthAdjust="spacingAndGlyphs">175</text>
<text x="534.9" y="838.1" font-size="16.9" textLength="45.5" lengthAdjust="spacingAndGlyphs">46.98</text>
<text x="86.3" y="855.9" font-size="16.9" textLength="89.6" lengthAdjust="spacingAndGlyphs">2025-05-12</text>
<text x="206.0" y="855.9" font-size="16.9" textLength="44.4" lengthAdjust="spacingAndGlyphs">14.10</text>
<text x="255.6" y="855.9" font-size="16.9" textLength="90.1" lengthAdjust="spacingAndGlyphs">2025-08-29</text>
<text x="380.4" y="855.9" font-size="16.9" textLength="45.1" lengthAdjust="spacingAndGlyphs">13.28</text>
<text x="480.2" y="855.9" font-size="16.9" textLength="30.1" lengthAdjust="spacingAndGlyphs">109</text>
<text x="534.2" y="855.9" font-size="16.9" textLength="41.1" lengthAdjust="spacingAndGlyphs">-5.78</text>
</svg></body></html>
